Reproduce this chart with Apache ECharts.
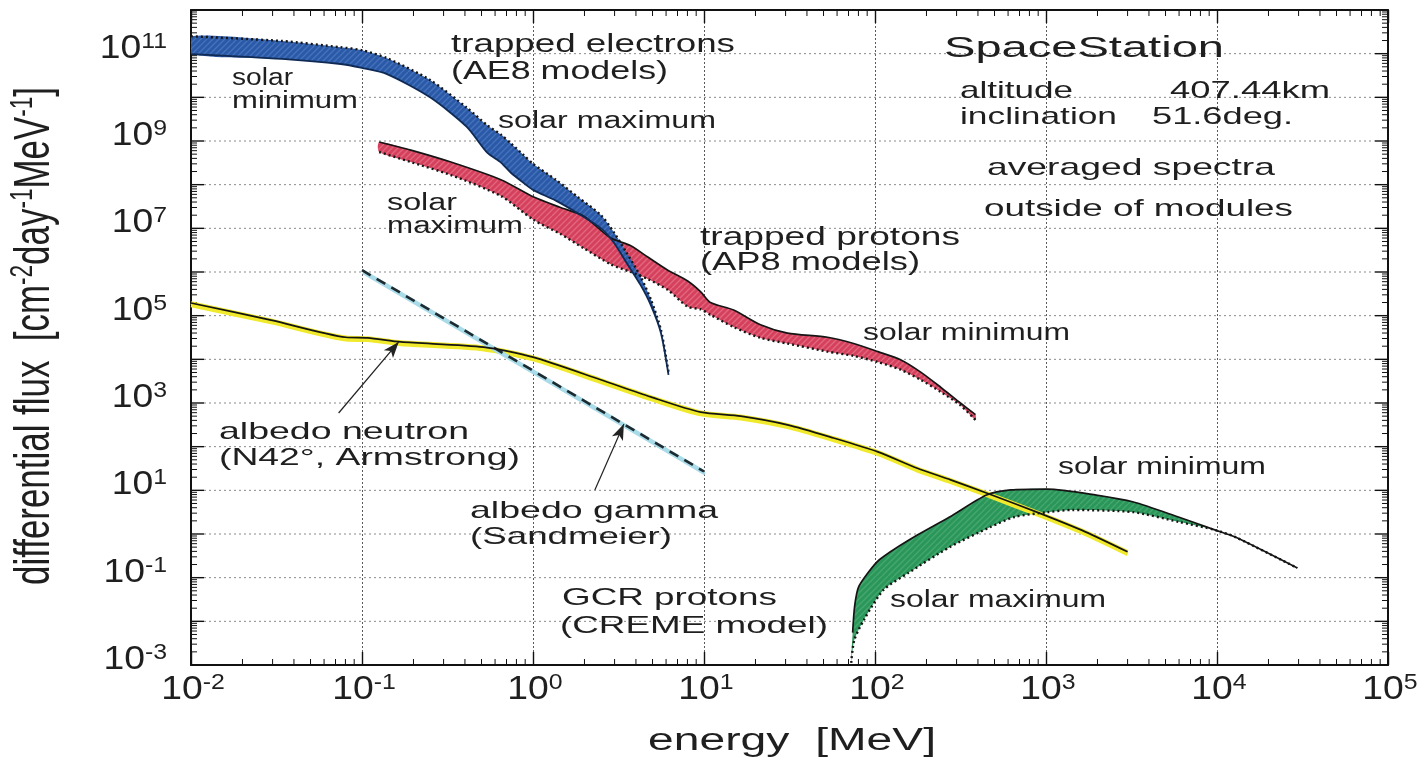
<!DOCTYPE html>
<html>
<head>
<meta charset="utf-8">
<script src="https://cdn.jsdelivr.net/npm/echarts@6/dist/echarts.min.js"></script>
<style>
html,body{margin:0;padding:0;background:#ffffff;}
#c{width:1427px;height:759px;}
</style>
</head>
<body>
<div id="c"></div>
<script>
// ---------------- data ----------------
const X_MIN = 0.01, X_MAX = 1e5, Y_MIN = 1e-3, Y_MAX = 1e12;
const yExpRange = [-3, 12];
const yLabelExponents = [11, 9, 7, 5, 3, 1, -1, -3];
const xLabelExponents = [-2, -1, 0, 1, 2, 3, 4, 5];

// trapped electrons (AE8)
const electronE        = [0.01, 0.034, 0.075, 0.1, 0.14, 0.25, 0.41, 0.54, 0.65, 0.74, 0.88, 1.0, 1.36, 1.83, 2.5, 2.96, 3.5, 4.26, 4.9, 5.6, 6.2];
const electronSolarMax = [2.5e11, 1.95e11, 1.4e11, 1.2e11, 7.9e10, 2.5e10, 5.8e9, 2.3e9, 1.4e9, 8.9e8, 4.8e8, 3.0e8, 1.3e8, 5.2e7, 2.0e7, 8.3e6, 2.9e6, 7.8e5, 2.3e5, 4.7e4, 5.1e3];
const electronSolarMin = [9.8e10, 7.6e10, 5.8e10, 4.7e10, 3.4e10, 1.0e10, 2.1e9, 5.4e8, 3.2e8, 1.9e8, 1.1e8, 7.6e7, 4.3e7, 2.2e7, 1.0e7, 4.8e6, 1.7e6, 5.0e5, 1.7e5, 4.0e4, 4.4e3];

// trapped protons (AP8)
const protonE        = [0.126, 0.193, 0.331, 0.649, 1.01, 1.45, 1.98, 2.85, 3.73, 4.69, 6.14, 8.03, 9.57, 10.9, 14.9, 21.4, 30.8, 52.8, 75, 104, 141, 185, 242, 316, 387];
const protonSolarMin = [9.5e8, 6.2e8, 3.3e8, 1.3e8, 5.2e7, 3.0e7, 1.9e7, 6.0e6, 4.0e6, 2.2e6, 1.1e6, 6.2e5, 3.5e5, 2.0e5, 1.35e5, 6.2e4, 4.0e4, 3.2e4, 2.3e4, 1.5e4, 9.8e3, 5.1e3, 2.3e3, 1.0e3, 540];
const protonSolarMax = [5.6e8, 3.3e8, 1.66e8, 5.5e7, 1.55e7, 7.4e6, 3.5e6, 1.5e6, 1.0e6, 6.9e5, 3.9e5, 1.6e5, 1.4e5, 1.05e5, 5.5e4, 3.1e4, 2.3e4, 1.5e4, 1.2e4, 8.7e3, 5.8e3, 3.4e3, 1.8e3, 890, 410];

// albedo neutron (N42deg, Armstrong)
const neutronE = [0.01, 0.0294, 0.0805, 0.108, 0.169, 0.515, 1.0, 2.49, 4.88, 9.57, 16.4, 30.8, 57.3, 104, 177, 277, 449, 916, 1700, 3000];
const neutronF = [1.95e5, 7.9e4, 3.2e4, 3.1e4, 2.5e4, 1.9e4, 1.12e4, 3.4e3, 1.38e3, 617, 500, 316, 158, 76, 32, 17.4, 8.7, 3.0, 1.12, 0.39];

// albedo gamma (Sandmeier)
const gammaE = [0.1, 1.0, 10];
const gammaF = [1.1e6, 5.5e3, 27];

// GCR protons (CREME model)
const gcrMinE     = [74, 76, 80, 91, 106, 157, 273, 449, 621, 1020, 1970, 3250, 5950, 9800, 12800, 29500];
const gcrSolarMin = [5.5e-3, 0.022, 0.06, 0.129, 0.257, 0.72, 2.45, 7.8, 10.2, 10.7, 7.8, 5.4, 2.45, 1.23, 0.85, 0.166];
const gcrMaxE     = [72.6, 75.6, 86, 112, 157, 273, 474, 654, 1020, 1430, 3250, 5950, 9800, 12800, 29500];
const gcrSolarMax = [1.12e-3, 3.7e-3, 0.0107, 0.052, 0.129, 0.50, 1.45, 2.45, 3.16, 3.55, 3.16, 1.9, 1.23, 0.85, 0.166];

// annotation arrows [start, end] in data space
const arrowNeutron = [[0.073, 590], [0.164, 2.5e4]];
const arrowGamma   = [[2.3, 10.2], [3.4, 330]];

// ---------------- layout / style ----------------
const FONT = '"Liberation Sans", Arial, Helvetica, sans-serif';
const INK = '#1f1f1f';
const SMOOTH = 0.25;

const annotations = [
  {t:'trapped electrons', l:451, r:735, y:45, s:25},
  {t:'(AE8 models)', l:451, r:668, y:72, s:25},
  {t:'SpaceStation', l:944, r:1224, y:49, s:30},
  {t:'altitude', l:960, r:1073, y:91, s:24},
  {t:'407.44km', l:1170, r:1330, y:91, s:24},
  {t:'inclination', l:960, r:1117, y:117, s:24},
  {t:'51.6deg.', l:1152, r:1293, y:117, s:24},
  {t:'averaged spectra', l:987, r:1275, y:168, s:24},
  {t:'outside of modules', l:984, r:1293, y:209, s:24},
  {t:'solar', l:232, r:293, y:79, s:23},
  {t:'minimum', l:232, r:358, y:102, s:23},
  {t:'solar maximum', l:498, r:716, y:122, s:23},
  {t:'solar', l:387, r:457, y:204, s:23},
  {t:'maximum', l:387, r:523, y:227, s:23},
  {t:'trapped protons', l:700, r:960, y:238, s:25},
  {t:'(AP8 models)', l:700, r:920, y:263, s:25},
  {t:'solar minimum', l:863, r:1070, y:334, s:23},
  {t:'albedo neutron', l:219, r:469, y:432, s:24},
  {t:'(N42°, Armstrong)', l:219, r:520, y:458, s:24},
  {t:'albedo gamma', l:470, r:718, y:511, s:24},
  {t:'(Sandmeier)', l:470, r:672, y:537, s:24},
  {t:'GCR protons', l:562, r:777, y:598, s:24},
  {t:'(CREME model)', l:560, r:828, y:626, s:24},
  {t:'solar minimum', l:1058, r:1266, y:468, s:23},
  {t:'solar maximum', l:890, r:1106, y:601, s:23},
  {t:'energy  [MeV]', l:648, r:936, y:741, s:31}
];

const mctx = document.createElement('canvas').getContext('2d');
function textWidth(str, size) { mctx.font = size + 'px ' + FONT; return mctx.measureText(str).width; }
function textEl(a) {
  const w = textWidth(a.t, a.s);
  return {
    type: 'text', x: a.l, y: a.y, scaleX: (a.r - a.l) / w, silent: true, z: 100,
    style: { text: a.t, font: a.s + 'px ' + FONT, fill: INK, align: 'left', verticalAlign: 'middle',
             textAlign: 'left', textVerticalAlign: 'middle' }
  };
}

// y-axis name with superscripts
const yNameParts = [['differential flux  [cm', false], ['-2', true], ['day', false], ['-1', true], ['MeV', false], ['-1', true], [']', false]];
const YN_SIZE = 34, YN_SUP = 22;
let yNameNatural = 0;
yNameParts.forEach(p => { yNameNatural += textWidth(p[0], p[1] ? YN_SUP : YN_SIZE); });
const yNameText = yNameParts.map(p => p[1] ? '{s|' + p[0] + '}' : p[0]).join('');
const yNameEl = {
  type: 'text', x: 35, y: 336, rotation: Math.PI / 2, scaleX: 498 / yNameNatural, scaleY: 1.45, silent: true, z: 100,
  style: {
    text: yNameText, font: YN_SIZE + 'px ' + FONT, fill: INK, align: 'center', verticalAlign: 'middle',
    textAlign: 'center', textVerticalAlign: 'middle', lineHeight: 38,
    rich: { s: { fontSize: YN_SUP, fontFamily: FONT, fill: INK, color: INK, lineHeight: YN_SUP, verticalAlign: 'top' } }
  }
};

const tickRich = {
  b: { fontSize: 33, fontFamily: FONT, color: INK, fill: INK, lineHeight: 36 },
  s: { fontSize: 22, fontFamily: FONT, color: INK, fill: INK, lineHeight: 22, verticalAlign: 'top' }
};
const TICK_LABEL_STRETCH = 1.13;

function pencilFill(base, streak) {
  const c = document.createElement('canvas');
  c.width = 36; c.height = 36;
  const g = c.getContext('2d');
  g.fillStyle = base; g.fillRect(0, 0, 36, 36);
  g.strokeStyle = streak; g.lineWidth = 1.3;
  for (let i = -36; i < 72; i += 6) { g.beginPath(); g.moveTo(i, 36); g.lineTo(i + 36, 0); g.stroke(); }
  return { image: c, repeat: 'repeat' };
}

const pairs = (E, F) => E.map((e, i) => [e, F[i]]);

function bandRender(upE, upF, loE, loF, fill) {
  return function (params, api) {
    if (params.dataIndex !== 0) return null;
    const pts = [];
    for (let i = 0; i < upE.length; i++) pts.push(api.coord([upE[i], upF[i]]));
    for (let i = loE.length - 1; i >= 0; i--) pts.push(api.coord([loE[i], loF[i]]));
    return { type: 'polygon', shape: { points: pts, smooth: SMOOTH }, style: { fill: fill, stroke: null } };
  };
}

function decorRender(params, api) {
  if (params.dataIndex !== 0) return null;
  const tl = api.coord([X_MIN, Y_MAX]), br = api.coord([X_MAX, Y_MIN]);
  const x0 = tl[0], x1 = br[0], y0 = tl[1], y1 = br[1];
  const kids = [];
  const ink = { stroke: '#111', lineWidth: 1.4 };
  const thin = { stroke: '#111', lineWidth: 1 };
  const grid = { stroke: '#8a8a8a', lineWidth: 1, lineDash: [2, 3] };
  for (let e = yExpRange[0]; e <= yExpRange[1]; e++) {
    const v = Math.pow(10, e);
    const y = api.coord([X_MIN, v])[1];
    if (e > yExpRange[0] && e < yExpRange[1]) {
      kids.push({ type: 'line', shape: { x1: x0 + 13, y1: y, x2: x1 - 13, y2: y }, style: grid });
    }
    kids.push({ type: 'line', shape: { x1: x0, y1: y, x2: x0 + 13, y2: y }, style: ink });
    kids.push({ type: 'line', shape: { x1: x1 - 13, y1: y, x2: x1, y2: y }, style: ink });
    if (e < yExpRange[1]) {
      for (let k = 2; k <= 9; k++) {
        const yk = api.coord([X_MIN, k * v])[1];
        kids.push({ type: 'line', shape: { x1: x0, y1: yk, x2: x0 + 6, y2: yk }, style: thin });
        kids.push({ type: 'line', shape: { x1: x1 - 6, y1: yk, x2: x1, y2: yk }, style: thin });
      }
    }
    if (yLabelExponents.indexOf(e) >= 0) {
      kids.push({
        type: 'text', x: x0 - 24, y: y - 5, scaleX: TICK_LABEL_STRETCH,
        style: { text: '{b|10}{s|' + e + '}', rich: tickRich, align: 'right', verticalAlign: 'middle',
                 textAlign: 'right', textVerticalAlign: 'middle' }
      });
    }
  }
  for (let i = 0; i < xLabelExponents.length; i++) {
    const e = xLabelExponents[i];
    const v = Math.pow(10, e);
    const x = api.coord([v, Y_MIN])[0];
    kids.push({
      type: 'text', x: x + 2, y: y1 + 7, scaleX: TICK_LABEL_STRETCH,
      style: { text: '{b|10}{s|' + e + '}', rich: tickRich, align: 'center', verticalAlign: 'top',
               textAlign: 'center', textVerticalAlign: 'top' }
    });
    if (i < xLabelExponents.length - 1) {
      for (let k = 2; k <= 9; k++) {
        const xk = api.coord([k * v, Y_MIN])[0];
        kids.push({ type: 'line', shape: { x1: xk, y1: y1, x2: xk, y2: y1 - 6 }, style: thin });
        kids.push({ type: 'line', shape: { x1: xk, y1: y0, x2: xk, y2: y0 + 6 }, style: thin });
      }
    }
  }
  return { type: 'group', children: kids };
}

function lineSeries(name, E, F, lineStyle, z, extra) {
  return Object.assign({
    type: 'line', name: name, data: pairs(E, F), showSymbol: false, symbol: 'none', smooth: SMOOTH,
    lineStyle: lineStyle, z: z, silent: true, clip: true
  }, extra || {});
}

const SOLID = { color: '#151515', width: 1.7, type: 'solid' };
const DOTTED = { color: '#151515', width: 2.4, type: [2, 3] };

const chart = echarts.init(document.getElementById('c'), null, { renderer: 'canvas' });

const option = {
  backgroundColor: '#ffffff',
  animation: false,
  textStyle: { fontFamily: FONT },
  grid: { left: 191, right: 39, top: 10, bottom: 94, containLabel: false },
  xAxis: [
    {
      type: 'log', logBase: 10, min: X_MIN, max: X_MAX, splitNumber: 7, position: 'bottom',
      axisLine: { show: true, onZero: false, lineStyle: { color: '#111', width: 2 } },
      axisTick: { show: true, inside: true, length: 13, lineStyle: { color: '#111', width: 1.4 } },
      axisLabel: { show: false },
      splitLine: { show: true, lineStyle: { color: '#5a5a5a', width: 1, type: [2, 2] } },
      minorTick: { show: false }
    },
    {
      type: 'log', logBase: 10, min: X_MIN, max: X_MAX, splitNumber: 7, position: 'top',
      axisLine: { show: true, onZero: false, lineStyle: { color: '#111', width: 2 } },
      axisTick: { show: true, inside: true, length: 13, lineStyle: { color: '#111', width: 1.4 } },
      axisLabel: { show: false }, splitLine: { show: false }
    }
  ],
  yAxis: [
    {
      type: 'log', logBase: 10, min: Y_MIN, max: Y_MAX, position: 'left',
      axisLine: { show: true, onZero: false, lineStyle: { color: '#111', width: 2 } },
      axisTick: { show: false }, axisLabel: { show: false }, splitLine: { show: false }
    },
    {
      type: 'log', logBase: 10, min: Y_MIN, max: Y_MAX, position: 'right',
      axisLine: { show: true, onZero: false, lineStyle: { color: '#111', width: 2 } },
      axisTick: { show: false }, axisLabel: { show: false }, splitLine: { show: false }
    }
  ],
  series: [
    { type: 'custom', name: 'axis decor', coordinateSystem: 'cartesian2d', data: [[1, 1]], renderItem: decorRender, z: 0, silent: true },
    // band fills
    { type: 'custom', name: 'GCR band', coordinateSystem: 'cartesian2d', data: [[1, 1]], z: 1, silent: true, clip: true,
      renderItem: bandRender(gcrMinE, gcrSolarMin, gcrMaxE, gcrSolarMax, pencilFill('#2a9659', 'rgba(120,200,150,0.35)')) },
    { type: 'custom', name: 'proton band', coordinateSystem: 'cartesian2d', data: [[1, 1]], z: 1, silent: true, clip: true,
      renderItem: bandRender(protonE, protonSolarMin, protonE, protonSolarMax, pencilFill('#d5405d', 'rgba(245,160,175,0.4)')) },
    { type: 'custom', name: 'electron band', coordinateSystem: 'cartesian2d', data: [[1, 1]], z: 2, silent: true, clip: true,
      renderItem: bandRender(electronE, electronSolarMax, electronE, electronSolarMin, pencilFill('#2a59a8', 'rgba(120,160,220,0.35)')) },
    // highlighter under the albedo curves
    lineSeries('neutron highlight', neutronE, neutronF,
      { color: '#f1ea2c', width: 3.5, shadowColor: '#f1ea2c', shadowBlur: 0, shadowOffsetY: 2.5 }, 3),
    lineSeries('gamma highlight', gammaE, gammaF,
      { color: '#a9dbe8', width: 3, shadowColor: '#a9dbe8', shadowBlur: 0, shadowOffsetY: 2.5, shadowOffsetX: 1 }, 3),
    // edges
    lineSeries('electrons solar maximum', electronE, electronSolarMax, DOTTED, 5),
    lineSeries('electrons solar minimum', electronE, electronSolarMin, { color: '#0e2a55', width: 1.8 }, 5),
    lineSeries('protons solar minimum', protonE, protonSolarMin, SOLID, 4),
    lineSeries('protons solar maximum', protonE, protonSolarMax, DOTTED, 4),
    lineSeries('GCR solar minimum', gcrMinE, gcrSolarMin, SOLID, 4),
    lineSeries('GCR solar maximum', gcrMaxE, gcrSolarMax, DOTTED, 4),
    lineSeries('albedo gamma', gammaE, gammaF, { color: '#1d2a30', width: 2.6, type: [10, 7] }, 4, { smooth: false }),
    lineSeries('albedo neutron', neutronE, neutronF, SOLID, 4, {
      markLine: {
        silent: true, symbol: ['none', 'arrow'], symbolSize: [9, 16], animation: false,
        label: { show: false }, emphasis: { disabled: true },
        lineStyle: { color: '#222', width: 1.2, type: 'solid' },
        data: [
          [{ coord: arrowNeutron[0] }, { coord: arrowNeutron[1] }],
          [{ coord: arrowGamma[0] }, { coord: arrowGamma[1] }]
        ]
      }
    })
  ],
  graphic: { elements: annotations.map(textEl).concat([yNameEl]) }
};

chart.setOption(option);
</script>
</body>
</html>
